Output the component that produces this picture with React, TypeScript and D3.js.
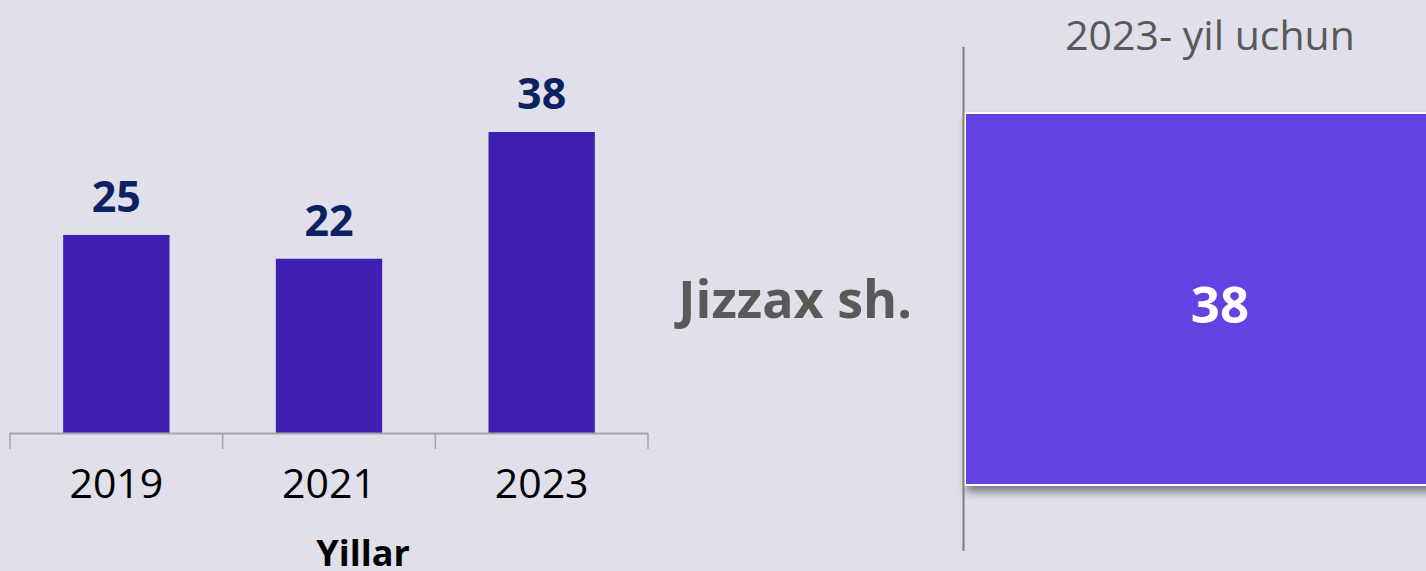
import React from "react";
import * as d3 from "d3";

const years = ["2019", "2021", "2023"];
const values = [25, 22, 38];
const regionLabels = ["Jizzax sh."];
const regionValues = [38];
const xAxisTitle = "Yillar";
const rightTitle = "2023- yil uchun";

const W = 1426;
const H = 571;

export default function App() {
  const x = d3.scaleBand<string>().domain(years).range([10, 648]).paddingInner(0.5).paddingOuter(0.25);
  const y = d3.scaleLinear().domain([0, 38]).range([433, 132]);
  const tickXs = [10, ...years.map((yr) => (x(yr)! + x.bandwidth() / 2 + x.step() / 2))];

  const xr = d3.scaleLinear().domain([0, 38]).range([965, 1475]);
  const yr = d3.scaleBand<string>().domain(regionLabels).range([113, 485]);

  return (
    <svg width={W} height={H} style={{ position: "absolute", left: 0, top: 0, background: "#e0dfea" }}>
      <defs>
        <filter id="shadow" x="-10%" y="-10%" width="130%" height="140%">
          <feDropShadow dx="2" dy="6" stdDeviation="4" floodColor="#000" floodOpacity="0.45" />
        </filter>
      </defs>
      <rect x={0} y={0} width={W} height={H} fill="#e0dfea" />
      {/* Left chart */}
      {years.map((yrKey, i) => (
        <g key={yrKey}>
          <rect x={x(yrKey)} y={y(values[i])} width={x.bandwidth()} height={y(0) - y(values[i])} fill="#3f1fb2" />
          <text
            x={x(yrKey)! + x.bandwidth() / 2}
            y={y(values[i]) - 23}
            textAnchor="middle"
            fontFamily="'Open Sans', sans-serif"
            fontWeight={700}
            fontSize={43}
            fill="#0c2161"
          >
            {values[i]}
          </text>
          <text
            x={x(yrKey)! + x.bandwidth() / 2}
            y={498}
            textAnchor="middle"
            fontFamily="'Open Sans', sans-serif"
            fontSize={41}
            fill="#000"
          >
            {yrKey}
          </text>
        </g>
      ))}
      <line x1={10} x2={648} y1={433.5} y2={433.5} stroke="#a6a6a8" strokeWidth={2} />
      {tickXs.map((tx, i) => (
        <line key={i} x1={tx} x2={tx} y1={433} y2={449} stroke="#a6a6a8" strokeWidth={1.5} />
      ))}
      <text x={363} y={566} textAnchor="middle" fontFamily="'Open Sans', sans-serif" fontWeight={700} fontSize={36} fill="#000">
        {xAxisTitle}
      </text>

      {/* Right chart */}
      <text x={1210} y={50} textAnchor="middle" fontFamily="'Open Sans', sans-serif" fontSize={41} fill="#595959">
        {rightTitle}
      </text>
      {regionLabels.map((lab, i) => (
        <g key={lab}>
          <rect
            x={xr(0)}
            y={yr(lab)}
            width={xr(regionValues[i]) - xr(0)}
            height={yr.bandwidth()}
            fill="#6342e4"
            stroke="#ffffff"
            strokeWidth={2}
            filter="url(#shadow)"
          />
          <text
            x={(xr(0) + xr(regionValues[i])) / 2}
            y={yr(lab)! + yr.bandwidth() / 2 + 24}
            textAnchor="middle"
            fontFamily="'Open Sans', sans-serif"
            fontWeight={700}
            fontSize={51}
            fill="#ffffff"
          >
            {regionValues[i]}
          </text>
          <text
            x={912}
            y={yr(lab)! + yr.bandwidth() / 2 + 19}
            textAnchor="end"
            fontFamily="'Open Sans', sans-serif"
            fontWeight={700}
            fontSize={52}
            fill="#595959"
          >
            {lab}
          </text>
        </g>
      ))}
      <line x1={963.5} x2={963.5} y1={47} y2={551} stroke="#7f7f7f" strokeWidth={2} />
    </svg>
  );
}
